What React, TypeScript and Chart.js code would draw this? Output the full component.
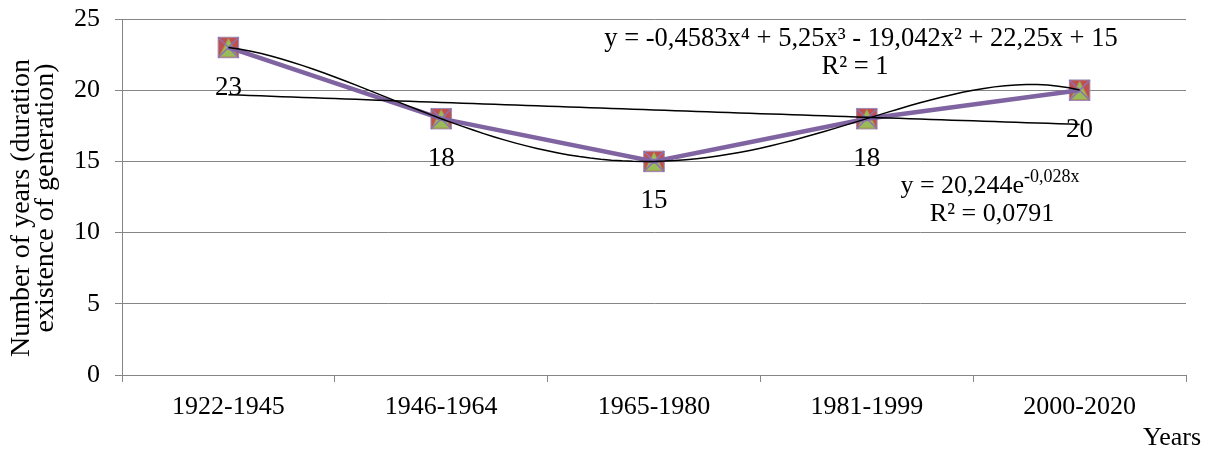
import { useEffect, useRef } from "react";
import { Chart, registerables } from "chart.js";
Chart.register(...registerables);

const categories = ["1922-1945", "1946-1964", "1965-1980", "1981-1999", "2000-2020"];
const values = [23, 18, 15, 18, 20];
const yTicks = [0, 5, 10, 15, 20, 25];
// polynomial trendline coefficients c0..c4 (from the displayed equation)
const polyCoefs = [15, 22.25, -19.042, 5.25, -0.4583];
// exponential trendline: a * e^(b x)
const expA = 20.244;
const expB = -0.028;
const yTitle = ["Number of years (duration", "existence of generation)"];
const xTitle = "Years";
const polyText = "y = -0,4583x⁴ + 5,25x³ - 19,042x² + 22,25x + 15";
const polyR2 = "R² = 1";
const expBase = "y = 20,244e";
const expSup = "-0,028x";
const expR2 = "R² = 0,0791";

const FONT = "'Liberation Serif', 'Times New Roman', serif";

function makeTriangle(size: number, color: string) {
  const c = document.createElement("canvas");
  c.width = size;
  c.height = size;
  const g = c.getContext("2d")!;
  g.fillStyle = color;
  g.beginPath();
  g.moveTo(size / 2, 0.5);
  g.lineTo(size - 0.5, size - 0.5);
  g.lineTo(0.5, size - 0.5);
  g.closePath();
  g.fill();
  return c;
}

export default function App() {
  const ref = useRef<HTMLCanvasElement>(null);
  useEffect(() => {
    document.body.style.margin = "0";
    const xs: number[] = [];
    for (let i = 0; i <= 80; i++) xs.push(1 + i * 0.05);
    const polyData = xs.map((x) => ({
      x,
      y: polyCoefs.reduce((s, c, k) => s + c * Math.pow(x, k), 0),
    }));
    const expData = xs.map((x) => ({ x, y: expA * Math.exp(expB * x) }));
    const tri = makeTriangle(20, "#9BBB59");

    const textPlugin = {
      id: "texts",
      afterDraw(chart: any) {
        const ctx = chart.ctx as CanvasRenderingContext2D;
        ctx.save();
        ctx.fillStyle = "#000";
        ctx.textAlign = "center";
        ctx.textBaseline = "middle";
        // data labels
        const meta = chart.getDatasetMeta(4);
        ctx.font = `27px ${FONT}`;
        meta.data.forEach((pt: any, i: number) => {
          ctx.fillText(String(values[i]), pt.x, pt.y + 40);
        });
        // polynomial equation
        ctx.font = `26.5px ${FONT}`;
        ctx.fillText(polyText, 861, 39);
        ctx.fillText(polyR2, 855, 67);
        // exponential equation
        ctx.font = `26px ${FONT}`;
        const bw = ctx.measureText(expBase).width;
        ctx.font = `18px ${FONT}`;
        const sw = ctx.measureText(expSup).width;
        const start = 990 - (bw + sw) / 2;
        ctx.textAlign = "left";
        ctx.font = `26px ${FONT}`;
        ctx.fillText(expBase, start, 186);
        ctx.font = `18px ${FONT}`;
        ctx.fillText(expSup, start + bw, 177);
        ctx.textAlign = "center";
        ctx.font = `26px ${FONT}`;
        ctx.fillText(expR2, 992, 214);
        // axis titles
        ctx.font = `26px ${FONT}`;
        ctx.fillText(xTitle, 1172, 438);
        ctx.save();
        ctx.translate(22, 208);
        ctx.rotate(-Math.PI / 2);
        ctx.font = `28px ${FONT}`;
        ctx.fillText(yTitle[0], 0, 0);
        ctx.fillText(yTitle[1], 10, 24);
        ctx.restore();
        ctx.restore();
      },
    };

    const chart = new Chart(ref.current!, {
      type: "line",
      data: {
        labels: categories,
        datasets: [
          {
            label: "poly",
            data: polyData as any,
            xAxisID: "x2",
            borderColor: "#000",
            borderWidth: 1.5,
            pointRadius: 0,
            order: 0,
          },
          {
            label: "exp",
            data: expData as any,
            xAxisID: "x2",
            borderColor: "#000",
            borderWidth: 1.5,
            pointRadius: 0,
            order: 1,
          },
          {
            label: "s3",
            data: values,
            borderColor: "#8064A2",
            borderWidth: 4.5,
            pointStyle: "crossRot",
            pointRadius: 14.5,
            pointBorderColor: "#8C72B4",
            pointBorderWidth: 1.5,
            order: 2,
          },
          {
            label: "s2",
            data: values,
            showLine: false,
            pointStyle: tri as any,
            pointRadius: 10,
            order: 3,
          },
          {
            label: "s1",
            data: values,
            showLine: false,
            pointStyle: "rect",
            pointRadius: 14.5,
            pointBackgroundColor: "#C0504D",
            pointBorderColor: "#9C8BB8",
            pointBorderWidth: 1,
            order: 4,
          },
        ],
      },
      options: {
        animation: false,
        responsive: false,
        layout: { padding: { left: 0, top: 19, right: 22, bottom: 0 } },
        plugins: { legend: { display: false }, tooltip: { enabled: false } },
        scales: {
          x: {
            type: "category",
            offset: true,
            grid: {
              display: true,
              drawOnChartArea: false,
              offset: true,
              tickLength: 7,
              color: "#868686",
            },
            border: { color: "#868686" },
            ticks: { font: { family: FONT, size: 26 }, color: "#000", padding: 10 },
            afterFit(s: any) {
              s.height = 77;
              s.paddingLeft = 0;
              s.paddingRight = 0;
            },
          },
          x2: { type: "linear", display: false, min: 0.5, max: 5.5 },
          y: {
            min: 0,
            max: 25,
            afterBuildTicks(s: any) {
              s.ticks = yTicks.map((v) => ({ value: v }));
            },
            grid: { color: "#868686", tickLength: 7 },
            border: { color: "#868686" },
            ticks: { font: { family: FONT, size: 26 }, color: "#000", padding: 15 },
            afterFit(s: any) {
              s.width = 122;
              s.paddingTop = 0;
              s.paddingBottom = 0;
            },
          },
        },
      },
      plugins: [textPlugin],
    });
    return () => chart.destroy();
  }, []);
  return (
    <div style={{ width: 1208, height: 452 }}>
      <canvas ref={ref} width={1208} height={452} />
    </div>
  );
}
